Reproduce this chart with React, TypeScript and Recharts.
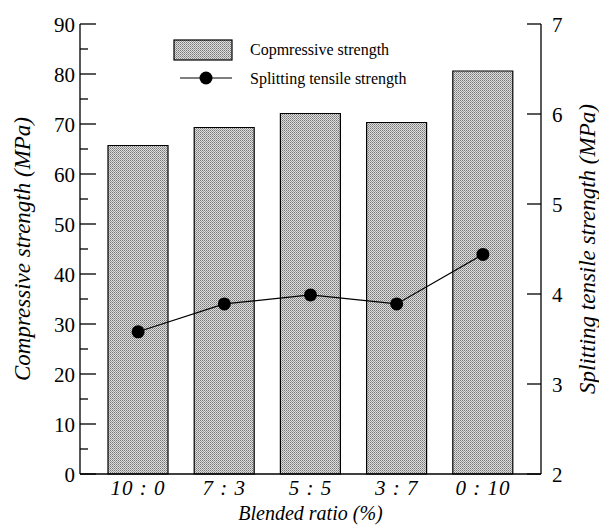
import React from 'react';
import { ComposedChart, Bar, Line, XAxis, YAxis, Legend } from 'recharts';

const ratios = ['10 : 0', '7 : 3', '5 : 5', '3 : 7', '0 : 10'];
const compressive = [65.7, 69.3, 72.1, 70.3, 80.6];
const splitting = [3.58, 3.89, 3.99, 3.89, 4.44];
const leftTicks = [0, 5, 10, 15, 20, 25, 30, 35, 40, 45, 50, 55, 60, 65, 70, 75, 80, 85, 90];
const rightTicks = [2, 3, 4, 5, 6, 7];
const barName = 'Copmressive strength';
const lineName = 'Splitting tensile strength';

const data = ratios.map((r, i) => ({ ratio: r, comp: compressive[i], split: splitting[i] }));

const FONT = '"Liberation Serif", "Times New Roman", serif';

const LeftTick = (props: any) => {
  const { x, y, payload } = props;
  const v = payload.value;
  const major = v % 10 === 0;
  const ax = x + 5;
  return (
    <g>
      <line x1={ax} x2={ax + (major ? 16 : 8)} y1={y} y2={y} stroke="#000" strokeWidth={1.3} />
      {major && (
        <text x={x} y={y} dy="0.36em" textAnchor="end" fontFamily={FONT} fontSize={21} fill="#000">
          {v}
        </text>
      )}
    </g>
  );
};

const RightTick = (props: any) => {
  const { x, y, payload } = props;
  const ax = x - 11;
  return (
    <g>
      <line x1={ax} x2={ax - 14} y1={y} y2={y} stroke="#000" strokeWidth={1.3} />
      <text x={x} y={y} dy="0.36em" textAnchor="start" fontFamily={FONT} fontSize={21} fill="#000">
        {payload.value}
      </text>
    </g>
  );
};

const BottomTick = (props: any) => {
  const { x, y, payload } = props;
  return (
    <text x={x} y={y} dy="0.71em" textAnchor="middle" fontFamily={FONT} fontSize={21} fontStyle="italic" fill="#000" letterSpacing={1}>
      {payload.value}
    </text>
  );
};

const LegendBox = () => (
  <svg width={260} height={60} style={{ display: 'block' }}>
    <rect x={4} y={4} width={58} height={20} fill="url(#dots)" stroke="#000" strokeWidth={1.2} />
    <text x={80} y={19} fontFamily={FONT} fontSize={16} fill="#000">{barName}</text>
    <line x1={10} x2={62} y1={42} y2={42} stroke="#000" strokeWidth={1.2} />
    <circle cx={36} cy={42} r={6.5} fill="#000" />
    <text x={80} y={48} fontFamily={FONT} fontSize={16} fill="#000">{lineName}</text>
  </svg>
);

export default function App() {
  return (
    <div style={{ position: 'absolute', left: 0, top: 0, width: 599, height: 525, background: '#fff' }}>
      <ComposedChart width={599} height={525} data={data} margin={{ top: 24, right: 0, bottom: 0, left: 0 }}>
        <defs>
          <pattern id="dots" width={2} height={2} patternUnits="userSpaceOnUse">
            <rect width={2} height={2} fill="#dedede" />
            <rect width={1} height={1} fill="#777" />
            <rect x={1} y={1} width={1} height={1} fill="#9a9a9a" />
          </pattern>
        </defs>
        <XAxis
          dataKey="ratio"
          xAxisId="bottom"
          height={51}
          padding={{ left: 15, right: 15 }}
          tickLine={false}
          tickSize={0}
          tickMargin={6}
          interval={0}
          tick={<BottomTick />}
          axisLine={{ stroke: '#000', strokeWidth: 1.3 }}
          label={{ value: 'Blended ratio (%)', position: 'center', dy: 13, fontFamily: FONT, fontSize: 20, fontStyle: 'italic', fill: '#000' }}
        />
        <XAxis dataKey="ratio" xAxisId="top" orientation="top" height={0} tick={false} tickLine={false} axisLine={{ stroke: '#000', strokeWidth: 1.3 }} />
        <YAxis
          yAxisId="left"
          width={80}
          domain={[0, 90]}
          ticks={leftTicks}
          interval={0}
          tickLine={false}
          tickSize={0}
          tickMargin={5}
          tick={<LeftTick />}
          axisLine={{ stroke: '#000', strokeWidth: 1.3 }}
          label={{ value: 'Compressive strength (MPa)', angle: -90, position: 'center', dx: -18, fontFamily: FONT, fontSize: 23, fontStyle: 'italic', fill: '#000' }}
        />
        <YAxis
          yAxisId="right"
          orientation="right"
          width={58}
          domain={[2, 7]}
          ticks={rightTicks}
          interval={0}
          tickLine={false}
          tickSize={0}
          tickMargin={11}
          tick={<RightTick />}
          axisLine={{ stroke: '#000', strokeWidth: 1.3 }}
          label={{ value: 'Splitting tensile strength (MPa)', angle: -90, position: 'center', dx: 17, fontFamily: FONT, fontSize: 23, fontStyle: 'italic', fill: '#000' }}
        />
        <Legend
          layout="horizontal"
          verticalAlign="middle"
          align="center"
          content={<LegendBox />}
          wrapperStyle={{ position: 'absolute', left: 170, top: 36, width: 260 }}
        />
        <Bar
          dataKey="comp"
          name={barName}
          xAxisId="bottom"
          yAxisId="left"
          barSize={60}
          fill="url(#dots)"
          stroke="#000"
          strokeWidth={1.2}
          isAnimationActive={false}
        />
        <Line
          dataKey="split"
          name={lineName}
          xAxisId="bottom"
          yAxisId="right"
          type="linear"
          stroke="#000"
          strokeWidth={1.2}
          dot={{ r: 6.5, fill: '#000', stroke: '#000', strokeWidth: 0 }}
          isAnimationActive={false}
        />
      </ComposedChart>
    </div>
  );
}
